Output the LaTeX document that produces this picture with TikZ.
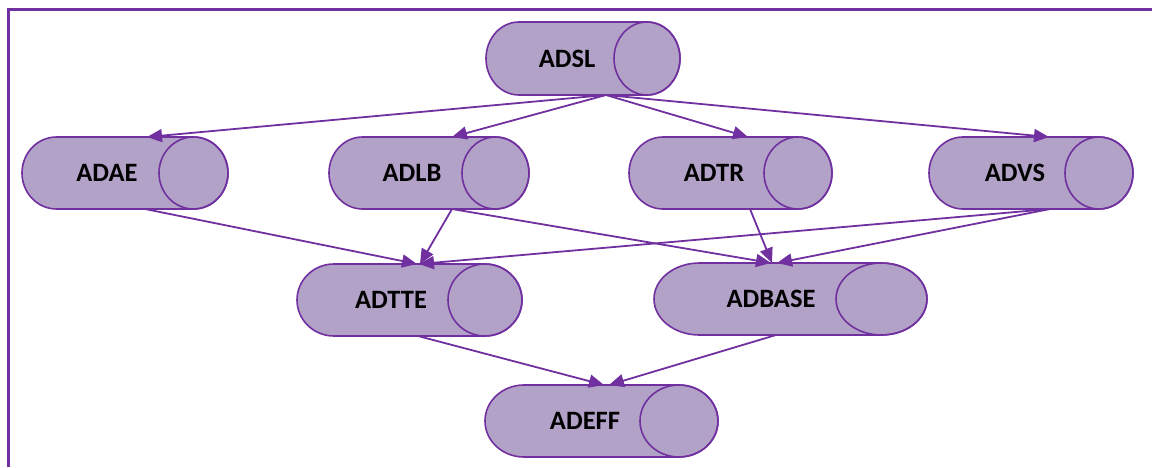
\documentclass[tikz,border=0pt]{standalone}
\usepackage{fontspec}
\setmainfont{Carlito}
\usetikzlibrary{arrows.meta,calc}

\definecolor{linkpurple}{HTML}{7030A0}
\definecolor{cylfill}{HTML}{B3A2C7}

\tikzset{
  cylbody/.style={fill=cylfill, draw=linkpurple, line width=1.6pt, line join=round},
  cylend/.style={draw=linkpurple, line width=1.6pt},
  cyllabel/.style={font=\fontsize{26.5}{31}\selectfont\bfseries, text=black, inner sep=0pt},
  cylframe/.style={draw=none, inner sep=0pt, outer sep=0pt},
  link/.style={draw=linkpurple, line width=1.8pt,
    -{Triangle[length=15pt, width=13pt]}},
  border/.style={draw=linkpurple, line width=3pt}
}

% #1 name, #2 left x, #3 right x, #4 top y, #5 bottom y,
% #6 x radius of the end ellipse, #7 label x, #8 label
\newcommand\cylnode[8]{%
  \path[cylbody] ({#3-#6},#4) -- ({#2+#6},#4)
    arc[start angle=90, end angle=270, x radius=#6, y radius={(#4-#5)/2}]
    -- ({#3-#6},#5)
    arc[start angle=270, end angle=450, x radius=#6, y radius={(#4-#5)/2}]
    -- cycle;
  \draw[cylend] ({#3-#6},{(#4+#5)/2}) ellipse [x radius=#6, y radius={(#4-#5)/2}];
  \node[cylframe, minimum width={(#3-#2)*1pt}, minimum height={(#4-#5)*1pt}]
    (#1) at ({(#2+#3)/2},{(#4+#5)/2}) {};
  \node[cyllabel] (#1-label) at (#7,{(#4+#5)/2}) {#8};
}

\begin{document}
\begin{tikzpicture}[x=1pt, y=1pt]
  \useasboundingbox (0,0) rectangle (1152,467);

  % frame along the left and top edges
  \draw[border] (8.7,0) -- (8.7,457.3) -- (1152,457.3);

  % datasets
  \cylnode{adsl}{486}{680}{445}{372}{33}{567}{ADSL}
  \cylnode{adae}{22}{228}{330}{258}{34.5}{107}{ADAE}
  \cylnode{adlb}{329}{529}{330}{258}{33.5}{412}{ADLB}
  \cylnode{adtr}{629}{832}{330}{258}{34}{714}{ADTR}
  \cylnode{advs}{929}{1133}{330}{258}{34}{1015}{ADVS}
  \cylnode{adtte}{297}{522}{203}{131}{37}{391}{ADTTE}
  \cylnode{adbase}{654}{927}{204}{132}{45.5}{771}{ADBASE}
  \cylnode{adeff}{485}{718}{82}{10}{39}{585}{ADEFF}

  % dependencies
  \draw[link] ($(adsl.south west)+(120,0)$) -- ($(adae.north west)+(125,0)$);
  \draw[link] ($(adsl.south west)+(120,0)$) -- ($(adlb.north west)+(123,0)$);
  \draw[link] ($(adsl.south west)+(120,0)$) -- ($(adtr.north west)+(119,0)$);
  \draw[link] ($(adsl.south west)+(120,0)$) -- ($(advs.north west)+(120,0)$);

  \draw[link] ($(adae.south west)+(123,0)$) -- ($(adtte.north west)+(120,0)$);
  \draw[link] ($(adlb.south west)+(123,0)$) -- ($(adtte.north west)+(123,0)$);
  \draw[link] ($(advs.south west)+(121,0)$) -- ($(adtte.north west)+(122,0)$);

  \draw[link] ($(adlb.south west)+(123,0)$) -- ($(adbase.north west)+(117,0)$);
  \draw[link] ($(adtr.south west)+(121,0)$) -- ($(adbase.north west)+(118,0)$);
  \draw[link] ($(advs.south west)+(121,0)$) -- ($(adbase.north west)+(123,0)$);

  \draw[link] ($(adtte.south west)+(121,0)$) -- ($(adeff.north west)+(119,0)$);
  \draw[link] ($(adbase.south west)+(122,0)$) -- ($(adeff.north west)+(124,0)$);
\end{tikzpicture}
\end{document}
